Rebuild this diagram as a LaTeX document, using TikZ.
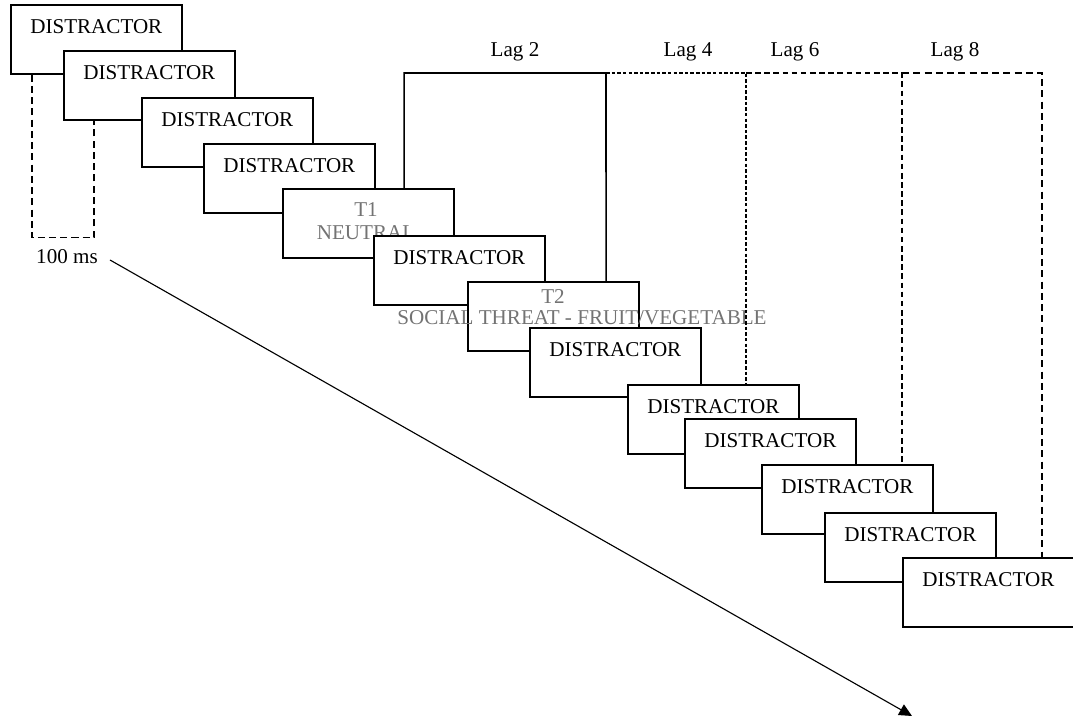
\documentclass[tikz,border=0pt]{standalone}
\usepackage{fontspec}
\setmainfont{Liberation Serif}
\usetikzlibrary{arrows.meta}

\begin{document}
\begin{tikzpicture}[x=0.025cm, y=-0.025cm,
  stim/.style={draw, line width=1.1pt, fill=white, anchor=north west, inner sep=0pt,
    minimum width=4.275cm, minimum height=1.725cm, text height=0.725cm, text depth=1cm,
    font=\fontsize{15}{18}\selectfont},
  lbl/.style={anchor=base, inner sep=0pt, font=\fontsize{15}{18}\selectfont},
  targ/.style={lbl, text=black!55},
  lagsolid/.style={line width=1.1pt},
  lagfour/.style={line width=0.8pt, dash pattern=on 2.5pt off 1.5pt},
  lagsix/.style={line width=0.8pt, dash pattern=on 4pt off 2.5pt},
  lageight/.style={line width=1.3pt, dash pattern=on 5pt off 3pt},
  durline/.style={line width=1pt, dash pattern=on 5pt off 3pt}]

\useasboundingbox (0,0) rectangle (1073,720);

\coordinate (c2) at (606,73);
\coordinate (c4) at (746,73);
\coordinate (c6) at (902,73);

\node[lbl] (lag2) at (515,57) {Lag 2};
\node[lbl] (lag4) at (688,57) {Lag 4};
\node[lbl] (lag6) at (795,57) {Lag 6};
\node[lbl] (lag8) at (955,57) {Lag 8};

\node[stim] (d1) at (10,4) {DISTRACTOR};
\node[stim] (d2) at (63,50) {DISTRACTOR};
\node[stim] (d3) at (141,97) {DISTRACTOR};
\node[stim] (d4) at (203,143) {DISTRACTOR};

\node[stim] (t1) at (282,188) {};
\node[targ] (t1a) at (366,217) {T1};
\node[targ] (t1b) at (366,240) {NEUTRAL};

\node[stim] (d6) at (373,235) {DISTRACTOR};

\node[stim] (t2) at (467,281) {};
\node[targ] (t2a) at (553,304) {T2};
\node[targ] (t2b) at (582,325) {SOCIAL THREAT - FRUIT/VEGETABLE};

\node[stim] (d8) at (529,327) {DISTRACTOR};
\node[stim] (d9) at (627,384) {DISTRACTOR};
\node[stim] (d10) at (684,418) {DISTRACTOR};
\node[stim] (d11) at (761,464) {DISTRACTOR};
\node[stim] (d12) at (824,512) {DISTRACTOR};
\node[stim] (d13) at (902,557) {DISTRACTOR};

\draw[lagsolid] ([xshift=3.05cm]t1.north west) |- (c2) -- ([xshift=3.475cm]t2.north west);
\draw[lagfour] (c2) -| ([xshift=2.975cm]d9.north west);
\draw[lagsix] (c4) -| ([xshift=3.525cm]d11.north west);
\draw[lageight] (c6) -| ([xshift=3.5cm]d13.north west);

\draw[durline] ([xshift=0.55cm]d1.south west) -- ++(0,163) -| ([xshift=0.775cm]d2.south west);
\node[lbl] (ms) at (67,264) {100 ms};

\coordinate (tstart) at (110,260);
\coordinate (tend) at (912,716);
\draw[line width=0.8pt, -{Triangle[length=0.32cm, width=0.3cm]}] (tstart) -- (tend);

\end{tikzpicture}
\end{document}
